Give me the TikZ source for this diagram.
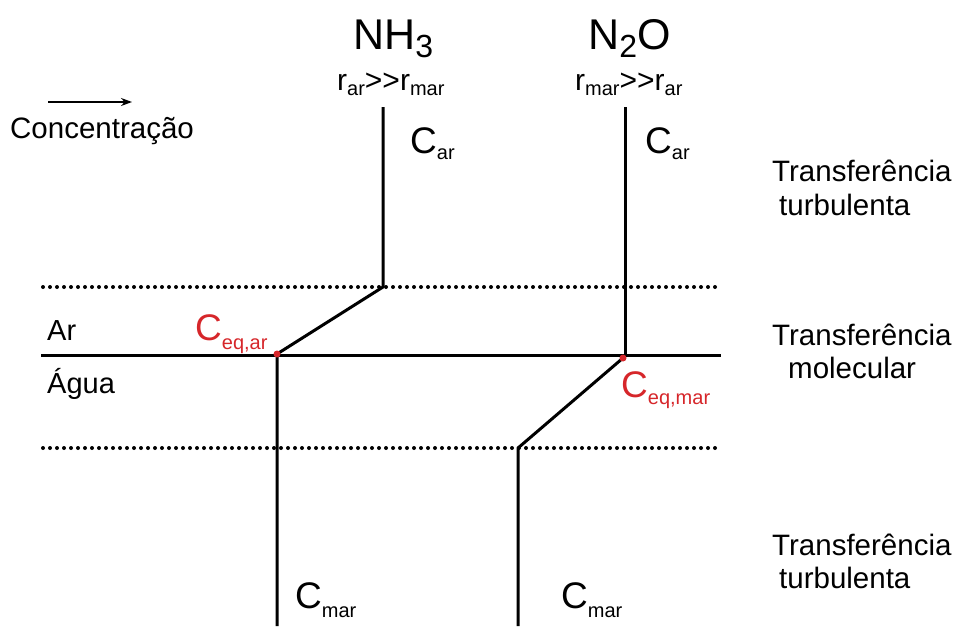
\documentclass[tikz,border=0pt]{standalone}
\usepackage{fontspec}
\setmainfont{Liberation Sans}
\usetikzlibrary{arrows.meta}
\definecolor{eqred}{RGB}{214,38,42}
% lowered subscript: drop, size, text
\newcommand{\lo}[3]{\raisebox{-#1pt}{\fontsize{#2}{#2}\selectfont #3}}
\newcommand{\fs}[1]{\fontsize{#1}{#1}\selectfont}
% two separate ">" signs (no guillemet ligature)
\newcommand{\mgt}{>\kern0pt>}
\begin{document}
\begin{tikzpicture}[x=1pt,y=-1pt,
  lbl/.style={inner sep=0pt,anchor=base west},
  profile/.style={line width=3pt,black,line join=round},
  interface/.style={line width=3pt,black},
  film/.style={line width=4pt,line cap=round,dash pattern=on 0pt off 7pt},
  eqdot/.style={circle,fill=eqred,inner sep=0pt,minimum size=7pt}]
\useasboundingbox (0,0) rectangle (955,626);

% concentration arrow
\coordinate (arA) at (48,102);
\coordinate (arB) at (132,102);
\draw[line width=1.8pt,-{Stealth[length=11pt,width=8pt]}] (arA) -- (arB);
\node[lbl] (conc) at (10,138) {\fs{29.5}Concentração};

% film boundaries and interface
\coordinate (f1a) at (43,287); \coordinate (f1b) at (718,287);
\coordinate (f2a) at (43,448); \coordinate (f2b) at (718,448);
\coordinate (ia) at (41,355);  \coordinate (ib) at (721,355);
\draw[film] (f1a) -- (f1b);
\draw[film] (f2a) -- (f2b);
\draw[interface] (ia) -- (ib);

% NH3 profile
\coordinate (n1) at (383,107);
\coordinate (n2) at (383,287);
\coordinate (n3) at (277,354);
\coordinate (n4) at (277,626);
\draw[profile] (n1) -- (n2) -- (n3) -- (n4);
\node[eqdot] (eq1) at (n3) {};

% N2O profile
\coordinate (m1) at (625,107);
\coordinate (m2) at (625,355);
\coordinate (m3) at (623,358);
\coordinate (m4) at (518,448);
\coordinate (m5) at (518,626);
\draw[profile] (m1) -- (m2);
\draw[profile] (m3) -- (m4) -- (m5);
\node[eqdot] (eq2) at (m3) {};

% species headers
\node[lbl] (nh3) at (353,50) {\fs{43}NH\lo{7}{32}{3}};
\node[lbl] (rnh) at (337,90) {\fs{30}r\lo{5}{20}{ar}\mgt r\lo{5}{20}{mar}};
\node[lbl] (n2o) at (588,50) {\fs{43}N\lo{7}{32}{2}O};
\node[lbl] (rno) at (575,90) {\fs{30}r\lo{5}{20}{mar}\mgt r\lo{5}{20}{ar}};

% bulk concentrations
\node[lbl] (car1) at (410,153) {\fs{37}C\lo{6}{20}{ar}};
\node[lbl] (car2) at (645,153) {\fs{37}C\lo{6}{20}{ar}};
\node[lbl] (cmar1) at (295,608) {\fs{37}C\lo{9}{20}{mar}};
\node[lbl] (cmar2) at (561,608) {\fs{37}C\lo{9}{20}{mar}};

% interface concentrations
\node[lbl,text=eqred] (ceq1) at (195,340) {\fs{37}C\lo{9}{20}{eq,ar}};
\node[lbl,text=eqred] (ceq2) at (621,397) {\fs{37}C\lo{7}{20}{eq,mar}};

% phases
\node[lbl] (ar) at (47,340) {\fs{29}Ar};
\node[lbl] (agua) at (47,393) {\fs{29}Água};

% transfer regimes
\node[lbl] (t1a) at (772,181) {\fs{29.5}Transferência};
\node[lbl] (t1b) at (779,215) {\fs{29.5}turbulenta};
\node[lbl] (t2a) at (772,345) {\fs{29.5}Transferência};
\node[lbl] (t2b) at (788,378) {\fs{29.5}molecular};
\node[lbl] (t3a) at (772,555) {\fs{29.5}Transferência};
\node[lbl] (t3b) at (779,588) {\fs{29.5}turbulenta};
\end{tikzpicture}
\end{document}
